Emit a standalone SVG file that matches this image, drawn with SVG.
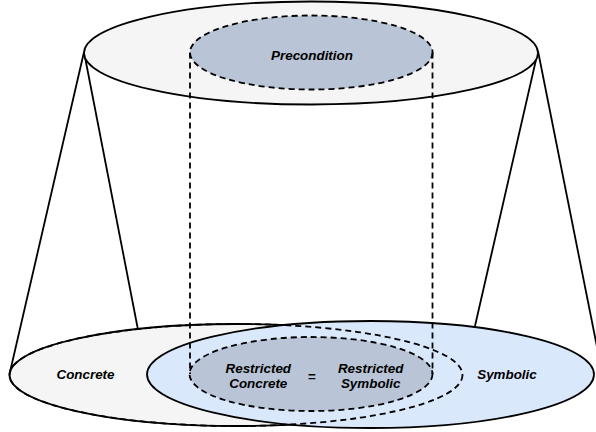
<svg xmlns="http://www.w3.org/2000/svg" width="596" height="432" viewBox="0 0 596 432">
  <style>
    .solid { stroke: #000; stroke-width: 1.8; }
    .dash { stroke: #000; stroke-width: 1.8; stroke-dasharray: 6 4; }
    .plain { fill: #f5f5f5; }
    .sym { fill: #dae8fc; }
    .restr { fill: #b9c4d6; }
    .lbl { font-family: "Liberation Sans", Arial, sans-serif; font-size: 13.4px; font-weight: bold; font-style: italic; fill: #000; text-anchor: middle; }
  </style>
  <rect width="596" height="432" fill="#fff"/>

  <!-- frustum sides -->
  <g id="connectors" fill="none">
    <line class="solid" x1="84" y1="52" x2="10" y2="372"/>
    <line class="solid" x1="84" y1="52" x2="147" y2="376"/>
    <line class="solid" x1="538" y1="51" x2="475" y2="326"/>
    <line class="solid" x1="538" y1="51" x2="602" y2="372"/>
  </g>

  <!-- input space (top) -->
  <g id="input-space">
    <ellipse class="solid plain" cx="311" cy="53" rx="227" ry="51.5"/>
  </g>
  <g id="precondition">
    <ellipse class="dash restr" cx="311.3" cy="52.5" rx="121.3" ry="37"/>
    <text class="lbl" x="312" y="59.5">Precondition</text>
  </g>

  <!-- concrete and symbolic behaviour sets -->
  <g id="concrete">
    <ellipse class="solid plain" cx="236" cy="375" rx="226.5" ry="51"/>
    <text class="lbl" x="85.5" y="379">Concrete</text>
  </g>
  <g id="symbolic">
    <ellipse class="solid sym" cx="370.5" cy="374.5" rx="223.5" ry="53.5"/>
    <text class="lbl" x="507" y="379">Symbolic</text>
  </g>
  <!-- hidden part of the concrete set, shown dashed -->
  <g id="concrete-outline">
    <ellipse class="dash" fill="none" cx="236" cy="375" rx="226.5" ry="51"/>
  </g>

  <g id="restricted">
    <ellipse class="dash restr" cx="311" cy="374" rx="121.5" ry="37"/>
    <text class="lbl" x="258.3" y="372.7">Restricted</text>
    <text class="lbl" x="258.3" y="388">Concrete</text>
    <text class="lbl" x="311.7" y="381">=</text>
    <text class="lbl" x="370.7" y="373.3">Restricted</text>
    <text class="lbl" x="370.7" y="388.3">Symbolic</text>
  </g>

  <!-- projection of the precondition -->
  <g id="projection" fill="none">
    <line class="dash" x1="190" y1="52.5" x2="190" y2="374"/>
    <line class="dash" x1="432.5" y1="52.5" x2="432.5" y2="374"/>
  </g>
</svg>
